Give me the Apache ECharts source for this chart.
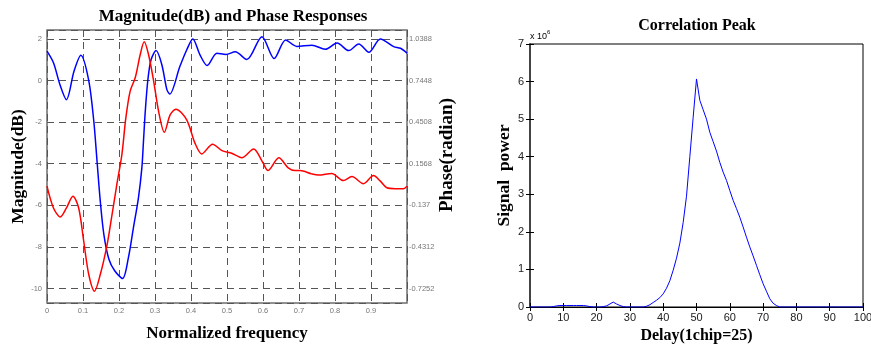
<!DOCTYPE html>
<html><head><meta charset="utf-8">
<script src="https://cdn.jsdelivr.net/npm/echarts@6/dist/echarts.min.js"></script>
<style>html,body{margin:0;padding:0;background:#fff}#c{width:871px;height:347px}</style>
</head><body><div id="c"></div>
<script>
// ---- Left chart: magnitude (dB) and phase (radian) vs normalized frequency ----
const magFreq = [0, 0.018, 0.036, 0.054, 0.075, 0.094, 0.116, 0.130, 0.139, 0.148, 0.158, 0.172, 0.188, 0.210, 0.226, 0.240, 0.254, 0.2635, 0.268, 0.273, 0.280, 0.289, 0.303, 0.319, 0.333, 0.341, 0.369, 0.388, 0.405, 0.425, 0.445, 0.472, 0.497, 0.523, 0.555, 0.597, 0.631, 0.663, 0.694, 0.736, 0.773, 0.806, 0.838, 0.866, 0.894, 0.926, 0.963, 0.982, 1.0];
const magDb = [1.41, 0.85, -0.2, -0.92, 0.45, 1.22, 0, -1.96, -3.88, -5.8, -7.41, -8.6, -9.15, -9.52, -8.53, -7.09, -5.64, -4.2, -2.92, -1.48, 0, 1.0, 1.44, 0.76, -0.44, -0.65, 0.67, 1.47, 2.0, 1.23, 0.72, 1.31, 1.25, 1.38, 1.01, 2.11, 1.06, 1.95, 1.64, 1.70, 1.5, 1.8, 1.44, 1.76, 1.36, 2.0, 1.63, 1.55, 1.32];
const phaseFreq = [0, 0.018, 0.037, 0.054, 0.072, 0.088, 0.102, 0.116, 0.132, 0.148, 0.167, 0.180, 0.194, 0.208, 0.219, 0.231, 0.245, 0.259, 0.270, 0.282, 0.296, 0.310, 0.326, 0.342, 0.358, 0.388, 0.411, 0.430, 0.460, 0.486, 0.513, 0.541, 0.574, 0.598, 0.614, 0.644, 0.670, 0.689, 0.703, 0.735, 0.754, 0.791, 0.823, 0.847, 0.879, 0.907, 0.926, 0.944, 0.967, 0.990, 1.0];
const phaseRad = [-0.0020, -0.1563, -0.2195, -0.1563, -0.0725, -0.1563, -0.3915, -0.6267, -0.7443, -0.6267, -0.4150, -0.2136, 0.0098, 0.2215, 0.4802, 0.6698, 0.7639, 0.9286, 1.0182, 0.9286, 0.7448, 0.5272, 0.3788, 0.5022, 0.5419, 0.4670, 0.3023, 0.2259, 0.2950, 0.2494, 0.2303, 0.1994, 0.2612, 0.1715, 0.1083, 0.1980, 0.1274, 0.1083, 0.1083, 0.0848, 0.0760, 0.0877, 0.0377, 0.0657, 0.0157, 0.0730, 0.0333, -0.0137, -0.0196, -0.0196, -0.0020];
const phaseTicks = [-0.7252, -0.4312, -0.1372, 0.1568, 0.4508, 0.7448, 1.0388];
const phaseTickLabels = ['-0.7252', '-0.4312', '-0.137', '0.1568', '0.4508', '0.7448', '1.0388'];

// ---- Right chart: correlation peak (signal power, x 10^6) vs delay ----
const delay = [];
for (let d = 0; d <= 100; d++) delay.push(d);
const powerE6 = [
  0, 0, 0, 0, 0, 0, 0, 0.01, 0.03, 0.04,
  0.04, 0.04, 0.04, 0.04, 0.04, 0.04, 0.04, 0.03, 0.01, 0,
  0, 0, 0.01, 0.03, 0.08, 0.13, 0.08, 0.04, 0.01, 0,
  0, 0, 0, 0, 0, 0.02, 0.06, 0.12, 0.18, 0.25,
  0.35, 0.5, 0.7, 0.98, 1.3, 1.7, 2.25, 2.95, 4.0, 5.05,
  6.07, 5.5, 5.25, 5.0, 4.65, 4.4, 4.15, 3.85, 3.59, 3.37,
  3.1, 2.84, 2.62, 2.39, 2.13, 1.86, 1.6, 1.36, 1.11, 0.86,
  0.62, 0.42, 0.22, 0.1, 0.04, 0, 0, 0, 0, 0,
  0, 0, 0, 0, 0, 0, 0, 0, 0, 0,
  0, 0, 0, 0, 0, 0, 0, 0, 0, 0,
  0
];

const MAG_MIN = -10.7, MAG_MAX = 2.43;
const PH_MIN = 0.7448 + 0.147 * MAG_MIN, PH_MAX = 0.7448 + 0.147 * MAG_MAX;

const serif = "'Liberation Serif', 'Times New Roman', serif";
const sans = "'Liberation Sans', Arial, sans-serif";
const nameStyle = (size) => ({ fontFamily: serif, fontWeight: 'bold', fontSize: size, color: '#000' });
const smallLab = { fontFamily: sans, fontSize: 7.5, color: '#777' };
const dash = { type: [7, 5], color: '#555', width: 1 };

const chart = echarts.init(document.getElementById('c'), null, { renderer: 'canvas' });
chart.setOption({
  animation: false,
  backgroundColor: '#fff',
  title: [
    { text: 'Magnitude(dB) and Phase Responses', left: 233, top: 8, padding: 0, textAlign: 'center', textStyle: { fontFamily: serif, fontWeight: 'bold', fontSize: 17, color: '#000' } },
    { text: 'Correlation Peak', left: 697, top: 18, padding: 0, textAlign: 'center', textStyle: { fontFamily: serif, fontWeight: 'bold', fontSize: 16, color: '#000' } }
  ],
  grid: [
    { left: 47, top: 30, width: 360, height: 273, show: true, borderColor: '#6e6e6e', borderWidth: 1.5, outerBoundsMode: 'none', containLabel: false },
    { left: 530, top: 44, width: 333, height: 263, show: true, borderColor: '#000', borderWidth: 1, outerBoundsMode: 'none', containLabel: false }
  ],
  xAxis: [
    { gridIndex: 0, type: 'value', min: 0, max: 1, interval: 0.1,
      axisLine: { show: false }, axisTick: { show: false },
      axisLabel: Object.assign({ margin: 4, showMaxLabel: false, showMinLabel: true }, smallLab),
      splitLine: { show: true, lineStyle: dash },
      name: 'Normalized frequency', nameLocation: 'middle', nameGap: 22, nameTextStyle: nameStyle(17) },
    { gridIndex: 1, type: 'value', min: 0, max: 100, interval: 10,
      axisLine: { show: true, lineStyle: { color: '#000', width: 1 } },
      axisTick: { show: true, inside: true, length: 4, lineStyle: { color: '#000' } },
      axisLabel: { margin: 5, fontFamily: sans, fontSize: 11, color: '#222', showMinLabel: true, showMaxLabel: true },
      splitLine: { show: false },
      name: 'Delay(1chip=25)', nameLocation: 'middle', nameGap: 19, nameTextStyle: nameStyle(16) },
    { gridIndex: 1, type: 'value', position: 'top', min: 0, max: 100, interval: 10,
      axisLine: { show: true, lineStyle: { color: '#000', width: 1 } },
      axisTick: { show: true, inside: true, length: 4, lineStyle: { color: '#000' } },
      axisLabel: { show: false }, splitLine: { show: false } }
  ],
  yAxis: [
    { gridIndex: 0, type: 'value', min: MAG_MIN, max: MAG_MAX, splitNumber: 6,
      axisLine: { show: false }, axisTick: { show: false },
      axisLabel: Object.assign({ margin: 5, showMinLabel: false, showMaxLabel: false }, smallLab),
      splitLine: { show: true, lineStyle: dash },
      name: 'Magnitude(dB)', nameLocation: 'middle', nameGap: 17, nameTextStyle: nameStyle(17.5) },
    { gridIndex: 0, type: 'value', position: 'right', min: PH_MIN, max: PH_MAX,
      axisLine: { show: false }, axisTick: { show: false }, splitLine: { show: false },
      axisLabel: Object.assign({
        margin: 2, customValues: phaseTicks,
        formatter: function (v) {
          let best = 0;
          for (let i = 1; i < phaseTicks.length; i++) if (Math.abs(phaseTicks[i] - v) < Math.abs(phaseTicks[best] - v)) best = i;
          return phaseTickLabels[best];
        }
      }, smallLab) },
    { gridIndex: 1, type: 'value', min: 0, max: 7, interval: 1,
      axisLine: { show: true, lineStyle: { color: '#000', width: 1 } },
      axisTick: { show: true, inside: true, length: 4, lineStyle: { color: '#000' } },
      axisLabel: { margin: 6, fontFamily: sans, fontSize: 11, color: '#222' },
      splitLine: { show: false },
      name: 'Signal  power', nameLocation: 'middle', nameGap: 17, nameTextStyle: nameStyle(17.5) },
    { gridIndex: 1, type: 'value', position: 'right', min: 0, max: 7, interval: 1,
      axisLine: { show: true, lineStyle: { color: '#444', width: 2 } },
      axisTick: { show: true, inside: true, length: 4, lineStyle: { color: '#000' } },
      axisLabel: { show: false }, splitLine: { show: false } }
  ],
  graphic: [
    { type: 'text', x: 447, y: 155, rotation: Math.PI / 2,
      style: { text: 'Phase(radian)', font: "bold 19px 'Liberation Serif', serif", fill: '#000', align: 'center', verticalAlign: 'middle' } },
    { type: 'text', x: 530, y: 29, style: { text: '{a|x 10}{s|6}', rich: { a: { fontFamily: sans, fontSize: 9, color: '#222', verticalAlign: 'bottom' }, s: { fontFamily: sans, fontSize: 6, color: '#222', verticalAlign: 'top', padding: [0, 0, 6, 0] } } } }
  ],
  series: [
    { name: 'Magnitude', type: 'line', xAxisIndex: 0, yAxisIndex: 0, smooth: 0.3, showSymbol: false,
      lineStyle: { color: '#0000ff', width: 1.5 }, itemStyle: { color: '#0000ff' },
      data: magFreq.map((f, i) => [f, magDb[i]]) },
    { name: 'Phase', type: 'line', xAxisIndex: 0, yAxisIndex: 1, smooth: 0.3, showSymbol: false,
      lineStyle: { color: '#ff0000', width: 1.5 }, itemStyle: { color: '#ff0000' },
      data: phaseFreq.map((f, i) => [f, phaseRad[i]]) },
    { name: 'Signal power', type: 'line', xAxisIndex: 1, yAxisIndex: 2, smooth: false, showSymbol: false,
      lineStyle: { color: '#0000ff', width: 1 }, itemStyle: { color: '#0000ff' },
      data: delay.map((d, i) => [d, powerE6[i]]) }
  ]
});
</script>
</body></html>
